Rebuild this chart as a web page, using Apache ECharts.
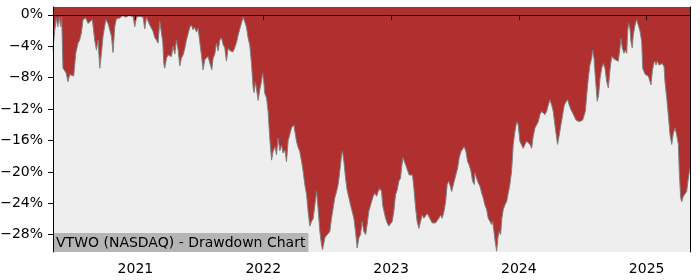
<!DOCTYPE html>
<html>
<head>
<meta charset="utf-8">
<script src="https://cdn.jsdelivr.net/npm/echarts@6/dist/echarts.min.js"></script>
<style>
html,body{margin:0;padding:0;background:#fff;}
#chart{width:700px;height:280px;}
</style>
</head>
<body>
<div id="chart"></div>
<script>
// Dates as decimal years, drawdown in percent
const dates = [2020.355,2020.368,2020.382,2020.392,2020.404,2020.415,2020.423,2020.433,2020.447,2020.458,2020.472,2020.486,2020.499,2020.517,2020.533,2020.551,2020.564,2020.577,2020.590,2020.611,2020.629,2020.642,2020.663,2020.681,2020.695,2020.707,2020.721,2020.734,2020.746,2020.768,2020.786,2020.799,2020.812,2020.825,2020.838,2020.851,2020.877,2020.901,2020.924,2020.948,2020.963,2020.981,2020.995,
2021.008,2021.034,2021.060,2021.073,2021.086,2021.099,2021.112,2021.125,2021.138,2021.151,2021.164,2021.177,2021.190,2021.204,2021.214,2021.222,2021.229,2021.243,2021.255,2021.269,2021.282,2021.294,2021.308,2021.321,2021.334,2021.347,2021.360,2021.373,2021.386,2021.399,2021.412,2021.425,2021.438,2021.451,2021.464,2021.478,2021.490,2021.503,2021.517,2021.529,2021.543,2021.556,2021.568,2021.582,2021.597,2021.608,2021.621,2021.634,2021.647,2021.660,2021.673,2021.686,2021.699,2021.712,2021.725,2021.744,2021.764,2021.777,2021.791,2021.803,2021.816,2021.830,2021.842,2021.856,2021.869,2021.881,2021.895,2021.908,2021.921,2021.928,2021.939,2021.947,2021.960,2021.973,2021.986,2021.995,
2022.004,2022.012,2022.026,2022.038,2022.051,2022.065,2022.077,2022.091,2022.104,2022.116,2022.130,2022.143,2022.155,2022.169,2022.182,2022.195,2022.208,2022.221,2022.239,2022.260,2022.273,2022.286,2022.300,2022.312,2022.325,2022.339,2022.351,2022.364,2022.378,2022.390,2022.404,2022.417,2022.429,2022.443,2022.456,2022.464,2022.482,2022.495,2022.508,2022.521,2022.534,2022.547,2022.560,2022.574,2022.586,2022.599,2022.613,2022.620,2022.631,2022.644,2022.656,2022.670,2022.683,2022.696,2022.709,2022.722,2022.735,2022.748,2022.761,2022.774,2022.787,2022.801,2022.813,2022.826,2022.840,2022.850,2022.860,2022.873,2022.887,2022.899,2022.912,2022.926,2022.934,2022.944,2022.957,2022.970,2022.983,2022.996,
2023.009,2023.022,2023.035,2023.048,2023.061,2023.074,2023.082,2023.093,2023.103,2023.116,2023.129,2023.142,2023.155,2023.168,2023.179,2023.192,2023.204,2023.218,2023.231,2023.244,2023.257,2023.270,2023.283,2023.296,2023.309,2023.322,2023.335,2023.348,2023.361,2023.374,2023.388,2023.400,2023.413,2023.427,2023.439,2023.453,2023.466,2023.474,2023.481,2023.494,2023.507,2023.521,2023.533,2023.547,2023.560,2023.572,2023.586,2023.599,2023.611,2023.625,2023.638,2023.651,2023.656,2023.669,2023.682,2023.695,2023.709,2023.721,2023.734,2023.748,2023.760,2023.774,2023.787,2023.795,2023.805,2023.815,2023.826,2023.836,2023.846,2023.857,2023.867,2023.878,2023.891,2023.904,2023.917,2023.930,2023.943,2023.956,2023.969,2023.983,2023.995,
2024.008,2024.022,2024.034,2024.048,2024.061,2024.073,2024.087,2024.100,2024.112,2024.126,2024.139,2024.152,2024.165,2024.178,2024.191,2024.204,2024.217,2024.230,2024.243,2024.257,2024.269,2024.282,2024.296,2024.303,2024.316,2024.329,2024.343,2024.355,2024.368,2024.382,2024.394,2024.408,2024.421,2024.433,2024.447,2024.460,2024.473,2024.486,2024.499,2024.512,2024.520,2024.531,2024.543,2024.556,2024.570,2024.577,2024.588,2024.595,2024.603,2024.613,2024.624,2024.635,2024.648,2024.660,2024.674,2024.687,2024.700,2024.713,2024.726,2024.739,2024.752,2024.765,2024.778,2024.791,2024.799,2024.809,2024.822,2024.833,2024.844,2024.851,2024.859,2024.869,2024.877,2024.887,2024.895,2024.909,2024.922,2024.934,2024.948,2024.961,2024.969,2024.979,2024.989,
2025.000,2025.013,2025.026,2025.034,2025.044,2025.055,2025.065,2025.073,2025.083,2025.096,2025.110,2025.122,2025.136,2025.143,2025.157,2025.169,2025.183,2025.196,2025.208,2025.222,2025.235,2025.248,2025.255,2025.266,2025.274,2025.287,2025.300,2025.313,2025.326,2025.339];

const drawdown = [-4.5,-2.0,-0.4,-1.5,-0.3,-1.5,-0.3,-6.8,-7.0,-7.4,-8.5,-7.6,-7.4,-7.8,-4.9,-3.6,-3.2,-2.3,-0.6,-0.4,-1.1,-0.9,-0.6,-3.2,-4.5,-3.2,-6.8,-4.9,-2.8,-0.6,-1.1,-1.9,-2.7,-4.8,-1.5,-0.5,-0.4,-0.1,-0.3,-0.1,-0.2,-0.2,-1.5,
-0.3,-0.2,-0.3,-1.8,-0.3,-0.4,-1.3,-1.7,-2.1,-2.9,-3.2,-3.6,-0.8,-1.0,-3.5,-6.2,-6.8,-5.5,-5.1,-5.0,-5.3,-4.0,-5.0,-3.2,-4.5,-6.5,-5.5,-5.1,-4.3,-3.2,-2.4,-1.6,-1.3,-1.9,-1.6,-2.2,-1.7,-3.4,-5.2,-7.0,-5.7,-5.9,-5.3,-5.5,-7.0,-5.5,-5.0,-3.6,-4.6,-3.2,-2.9,-3.8,-4.2,-5.9,-4.3,-4.6,-4.7,-4.2,-3.5,-2.6,-2.4,-1.0,-0.3,-0.9,-1.6,-2.9,-3.9,-6.2,-9.3,-9.9,-8.6,-9.4,-10.9,-9.5,-8.5,-7.4,
-8.5,-10.0,-10.6,-12.3,-15.7,-18.5,-17.4,-16.8,-17.8,-15.7,-17.3,-16.6,-17.6,-17.2,-18.7,-16.0,-15.2,-14.4,-14.0,-16.1,-16.9,-17.4,-18.7,-19.9,-21.6,-22.9,-25.0,-26.9,-26.3,-26.0,-24.2,-22.5,-24.6,-27.6,-29.3,-29.9,-28.4,-28.1,-28.0,-27.6,-25.9,-24.6,-23.3,-22.5,-21.6,-19.9,-17.8,-17.4,-18.7,-20.8,-22.3,-22.3,-24.2,-24.2,-25.9,-27.6,-29.7,-28.4,-28.0,-26.3,-27.6,-28.0,-26.7,-25.0,-24.2,-24.4,-23.1,-22.7,-23.1,-22.5,-22.1,-22.5,-24.2,-24.4,-25.9,-26.5,-26.9,-26.7,
-26.3,-25.0,-22.9,-22.3,-21.2,-20.8,-19.5,-18.2,-18.4,-19.2,-19.0,-20.4,-20.6,-20.4,-22.1,-24.6,-26.3,-27.2,-26.3,-25.5,-25.9,-26.1,-25.3,-25.1,-26.1,-26.5,-26.7,-26.5,-26.7,-25.9,-25.5,-25.9,-25.1,-23.8,-21.6,-21.2,-22.0,-22.5,-22.7,-21.2,-21.0,-19.5,-18.2,-17.4,-17.4,-16.8,-17.4,-18.7,-19.1,-19.9,-21.2,-21.6,-20.1,-20.8,-21.4,-21.8,-22.7,-23.3,-24.2,-24.8,-25.9,-26.3,-26.7,-26.3,-27.6,-28.9,-30.1,-28.4,-27.6,-28.0,-25.9,-24.8,-24.2,-23.8,-22.7,-21.6,-19.9,-16.5,-14.9,-13.6,-14.0,
-16.1,-16.3,-17.0,-16.5,-16.1,-15.9,-16.5,-17.0,-15.5,-14.4,-14.6,-13.6,-12.7,-12.3,-12.1,-12.7,-12.3,-11.5,-10.8,-11.5,-12.3,-14.0,-15.7,-16.5,-15.3,-14.0,-12.7,-11.5,-11.1,-10.8,-11.5,-12.1,-12.5,-12.9,-13.4,-13.6,-13.6,-13.4,-13.4,-13.4,-12.3,-10.2,-8.1,-6.4,-5.5,-4.5,-5.5,-7.2,-8.9,-11.0,-10.2,-8.1,-6.8,-6.2,-6.8,-8.5,-9.3,-7.0,-5.3,-5.1,-5.7,-5.7,-5.9,-4.2,-3.0,-4.2,-4.9,-4.5,-4.9,-2.1,-1.1,-1.7,-3.4,-4.2,-2.6,-1.3,-0.6,-1.3,-2.1,-3.4,-6.8,-7.2,-7.6,
-7.6,-7.8,-8.5,-8.9,-7.2,-6.2,-5.9,-6.4,-5.9,-6.4,-6.4,-6.2,-6.6,-8.5,-10.6,-12.7,-15.3,-16.5,-15.1,-14.4,-15.3,-16.5,-19.9,-23.3,-23.8,-23.1,-23.3,-22.5,-20.8,-19.5];

const xTicks = [2021, 2022, 2023, 2024, 2025];
const yTicks = [0, -4, -8, -12, -16, -20, -24, -28];
const titleText = 'VTWO (NASDAQ) - Drawdown Chart';
const xMin = 2020.355, xMax = 2025.339;
const yMin = -30.2, yMax = 1.0;

const seriesData = dates.map((d, i) => [d, drawdown[i]]);
const font = 'DejaVu Sans';
const fmtPct = v => (v < 0 ? '\u2212' + (-v) : String(v)) + '%';

const chart = echarts.init(document.getElementById('chart'), null, {renderer: 'canvas'});
chart.setOption({
  animation: false,
  backgroundColor: '#ffffff',
  title: {
    text: titleText,
    left: 53, bottom: 28,
    padding: [3, 3, 2, 3],
    backgroundColor: '#b5b5b5',
    textStyle: {fontFamily: font, fontSize: 14, fontWeight: 'normal', color: '#000'},
    z: 8
  },
  grid: {left: 53, right: 10, top: 7, bottom: 28, show: true, backgroundColor: '#eeeeee', borderWidth: 0, containLabel: false, outerBoundsMode: 'none'},
  xAxis: [{
    type: 'value', min: xMin, max: xMax, z: 10,
    splitLine: {show: false},
    axisLine: {show: true, lineStyle: {color: '#000', width: 1}},
    axisTick: {show: true, length: 5, lineStyle: {color: '#000'}, customValues: xTicks},
    axisLabel: {customValues: xTicks, formatter: v => String(Math.round(v)), color: '#000', fontSize: 14, fontFamily: font, margin: 10}
  }, {
    type: 'value', min: xMin, max: xMax, position: 'top', z: 10,
    splitLine: {show: false}, axisTick: {show: false}, axisLabel: {show: false},
    axisLine: {show: true, lineStyle: {color: '#000', width: 1}}
  }],
  yAxis: [{
    type: 'value', min: yMin, max: yMax, z: 10,
    splitLine: {show: false},
    axisLine: {show: true, lineStyle: {color: '#000', width: 1}},
    axisTick: {show: true, length: 5, lineStyle: {color: '#000'}, customValues: yTicks},
    axisLabel: {customValues: yTicks, formatter: fmtPct, color: '#000', fontSize: 14, fontFamily: font, margin: 10, padding: [4, 0, 0, 0]}
  }, {
    type: 'value', min: yMin, max: yMax, position: 'right', z: 10,
    splitLine: {show: false}, axisTick: {show: false}, axisLabel: {show: false},
    axisLine: {show: true, lineStyle: {color: '#000', width: 1}}
  }],
  series: [{
    type: 'line',
    xAxisIndex: 0, yAxisIndex: 0,
    data: seriesData,
    showSymbol: false, symbol: 'none',
    lineStyle: {color: '#808080', width: 1},
    areaStyle: {color: '#b03030', opacity: 1, origin: 'end'},
    z: 2
  }]
});
</script>
</body>
</html>
